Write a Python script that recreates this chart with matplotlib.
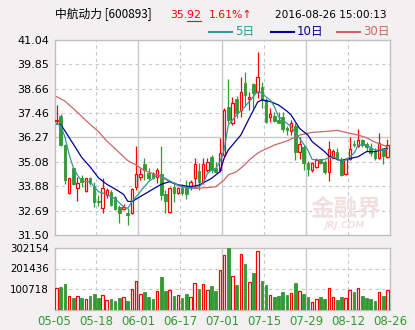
import matplotlib
matplotlib.use("Agg")
import matplotlib.pyplot as plt
from matplotlib.lines import Line2D
import numpy as np

plt.rcParams['font.family'] = ['DejaVu Sans', 'Noto Sans CJK SC']

# daily candles 2016-05-05 .. 2016-08-26
opens = [37.08, 37.34, 35.90, 33.54, 34.79, 33.79, 34.27, 33.67, 34.27, 33.90,
         33.18, 32.80, 33.46, 33.62, 33.34, 32.88, 32.75, 32.56, 32.56, 33.87,
         34.36, 34.97, 34.55, 34.52, 34.36, 34.47, 33.50, 32.64, 33.87, 33.54,
         33.82, 33.87, 33.92, 34.27, 34.63, 34.11, 34.68, 35.30, 34.79, 34.68,
         35.41, 37.78, 36.96, 38.14, 37.62, 38.95, 38.14, 38.87, 38.51, 38.76,
         38.11, 37.26, 37.32, 37.13, 37.26, 36.72, 36.60, 36.83, 35.58, 35.82,
         35.00, 34.68, 34.84, 35.20, 35.08, 34.56, 35.29, 35.57, 35.21, 34.47,
         35.21, 35.95, 35.86, 36.14, 35.94, 35.78, 35.62, 35.26, 35.75, 35.30]
highs = [37.86, 37.44, 35.95, 34.31, 34.85, 34.36, 34.43, 34.30, 34.35, 34.10,
         33.47, 34.31, 33.80, 33.70, 33.40, 32.95, 33.00, 32.80, 33.78, 35.85,
         34.76, 35.25, 34.76, 34.60, 34.76, 35.85, 33.70, 33.87, 34.10, 33.85,
         34.00, 34.17, 34.19, 35.25, 35.00, 35.25, 35.25, 35.40, 35.06, 36.23,
         37.70, 39.12, 38.27, 38.30, 39.25, 39.49, 38.51, 38.95, 40.47, 39.00,
         38.19, 37.70, 37.54, 37.54, 37.54, 36.83, 37.13, 37.00, 36.31, 35.90,
         35.10, 35.08, 35.27, 35.22, 35.15, 36.11, 35.70, 35.78, 35.30, 35.25,
         36.27, 36.14, 36.68, 36.20, 36.03, 35.98, 35.74, 36.47, 35.78, 36.20]
lows = [37.00, 35.85, 33.98, 33.50, 33.95, 33.18, 33.86, 33.60, 33.95, 32.88,
        32.92, 32.59, 33.30, 32.93, 32.70, 32.07, 32.70, 32.00, 32.52, 33.70,
        34.20, 34.20, 34.20, 34.25, 34.04, 33.20, 32.60, 32.60, 33.10, 33.50,
        33.45, 33.26, 33.70, 33.87, 33.70, 33.99, 34.60, 34.52, 34.52, 34.60,
        35.33, 36.96, 36.88, 37.21, 37.29, 37.86, 37.62, 37.70, 38.19, 37.70,
        36.96, 37.04, 37.04, 36.96, 36.56, 36.39, 36.39, 35.17, 35.20, 34.68,
        34.39, 34.60, 34.76, 34.96, 34.47, 34.15, 35.25, 35.15, 34.40, 34.44,
        35.15, 35.80, 35.82, 35.82, 35.62, 35.37, 35.17, 35.21, 34.96, 35.26]
closes = [37.15, 35.90, 34.19, 34.30, 34.00, 34.03, 34.11, 34.27, 34.03, 33.13,
          33.09, 33.78, 33.70, 32.96, 32.76, 32.56, 32.86, 32.48, 33.73, 34.47,
          34.47, 34.68, 34.28, 34.28, 34.68, 33.46, 33.14, 33.82, 33.54, 33.79,
          33.54, 33.51, 34.11, 34.96, 34.11, 34.96, 35.06, 34.68, 34.60, 35.50,
          37.62, 37.13, 37.94, 37.45, 38.51, 38.35, 38.27, 38.43, 39.25, 38.11,
          37.04, 37.42, 37.09, 37.00, 36.67, 36.64, 37.00, 35.58, 35.94, 35.04,
          34.71, 35.00, 35.17, 35.04, 34.56, 35.73, 35.62, 35.21, 34.44, 35.21,
          35.70, 35.90, 36.14, 35.90, 35.80, 35.50, 35.29, 35.98, 35.35, 35.92]
volumes = [104000, 110000, 127000, 65000, 56000, 65000, 56000, 50000, 66000, 76000,
           56000, 70000, 47000, 52000, 42000, 56000, 60000, 42000, 99000, 139000,
           75000, 86000, 61000, 52000, 89000, 160000, 91000, 94000, 66000, 70000,
           56000, 76000, 60000, 129000, 101000, 125000, 94000, 115000, 91000, 193000,
           266000, 302154, 163000, 120000, 271000, 224000, 134000, 179000, 286000, 139000,
           120000, 70000, 61000, 66000, 86000, 72000, 80000, 130000, 89000, 76000,
           61000, 37000, 50000, 61000, 52000, 104000, 61000, 47000, 61000, 56000,
           94000, 86000, 104000, 66000, 56000, 52000, 42000, 86000, 66000, 94000]

# moving averages read at selected bars
ma5_idx = [0, 1, 2, 3, 4, 5, 6, 7, 8, 9, 10, 12, 14, 16, 17, 18, 20, 22, 24, 25,
           26, 28, 30, 32, 34, 35, 36, 37, 38, 39, 40, 41, 43, 45, 46, 48, 49, 50,
           51, 52, 53, 55, 56, 58, 60, 61, 63, 64, 66, 68, 69, 71, 72, 74, 76, 77, 79]
ma5_val = [36.93, 36.86, 36.30, 35.45, 34.80, 34.43, 34.14, 34.12, 34.11, 33.86,
           33.62, 33.49, 33.26, 32.89, 32.80, 33.13, 33.62, 34.11, 34.43, 34.38,
           34.27, 34.03, 33.86, 33.78, 33.86, 34.03, 34.50, 34.68, 34.76, 35.08,
           35.66, 36.88, 37.37, 37.78, 38.03, 38.52, 38.44, 38.25, 38.11, 37.78,
           37.29, 36.96, 36.80, 36.23, 35.66, 35.20, 35.16, 35.20, 35.33, 35.12,
           35.16, 35.49, 35.90, 35.90, 35.66, 35.66, 35.70]
ma10_idx = [0, 1, 2, 4, 6, 8, 10, 12, 14, 16, 17, 18, 20, 22, 25, 27, 29, 32, 34,
            37, 39, 40, 41, 44, 46, 48, 49, 51, 53, 55, 56, 58, 60, 61, 64, 65,
            68, 69, 72, 74, 76, 79]
ma10_val = [36.93, 36.90, 36.60, 35.95, 35.30, 34.84, 34.30, 33.98, 33.75, 33.49,
            33.15, 33.13, 33.38, 33.62, 33.98, 34.11, 33.96, 33.86, 33.94, 34.27,
            34.60, 35.25, 35.66, 36.39, 37.21, 38.00, 38.11, 38.03, 37.86, 37.56,
            37.37, 36.72, 36.39, 36.07, 35.58, 35.37, 35.12, 35.20, 35.33, 35.58,
            35.58, 35.74]
ma30_idx = [0, 2, 5, 7, 10, 12, 14, 17, 19, 21, 24, 27, 30, 33, 36, 38, 40, 41,
            43, 45, 46, 48, 49, 51, 52, 55, 58, 61, 64, 67, 69, 72, 74, 76, 79]
ma30_val = [38.27, 38.05, 37.50, 37.10, 36.56, 36.10, 35.72, 35.14, 34.92, 34.65,
            34.44, 34.11, 33.84, 33.78, 33.82, 33.86, 34.19, 34.44, 34.60, 34.95,
            35.17, 35.50, 35.62, 35.80, 35.90, 36.10, 36.39, 36.52, 36.56, 36.62,
            36.52, 36.39, 36.26, 36.04, 35.82]

date_labels = ['05-05', '05-18', '06-01', '06-17', '07-01',
               '07-15', '07-29', '08-12', '08-26']
price_ticks = [31.50, 32.69, 33.88, 35.08, 36.27, 37.46, 38.66, 39.85, 41.04]
vol_ticks = [100718, 201436, 302154]

RED = '#ff0000'
GREEN = '#339933'
C5, C10, C30 = '#339999', '#000099', '#cc6666'
BG = '#f2f0f1'
GRID = '#c8c8c8'

W, H = 415, 330
fig = plt.figure(figsize=(W / 100, H / 100), dpi=100, facecolor=BG)


def fx(px):
    return px / W


def fy(py):
    return 1 - py / H


ax = fig.add_axes([fx(54.5), fy(235), fx(390) - fx(54.5), fy(40) - fy(235)])
axv = fig.add_axes([fx(54.5), fy(309.5), fx(390) - fx(54.5), fy(248) - fy(309.5)])

x = np.arange(len(closes))
o = np.array(opens)
c = np.array(closes)
up = c >= o
xlim = (-0.48, 79.6)
xt = np.linspace(xlim[0], xlim[1], 9)

for a in (ax, axv):
    a.set_facecolor('white')
    a.set_xlim(*xlim)
    for s in a.spines.values():
        s.set_color('#c0c0c0')
        s.set_linewidth(1.0)
    a.tick_params(length=0, labelsize=8, pad=4)
    a.set_xticks(xt)
    for k in range(1, 8):
        if k % 2 == 0:
            a.axvline(xt[k], color=GRID, lw=1.0, zorder=0)
        else:
            a.axvline(xt[k], color=GRID, lw=0.8, ls=(0, (3, 3)), zorder=0)

# price panel
ax.set_ylim(price_ticks[0], price_ticks[-1])
ax.set_yticks(price_ticks)
ax.set_yticklabels(['%.2f' % v for v in price_ticks])
ax.set_xticklabels([])
for v in price_ticks[1:-1]:
    if v == 36.27:
        ax.axhline(v, color=GRID, lw=1.0, zorder=0)
    else:
        ax.axhline(v, color=GRID, lw=0.8, ls=(0, (3, 3)), zorder=0)

# watermark
ax.text(77.5, 32.2, '金融界', fontsize=17, fontweight='bold', color='#f2e0e0',
        ha='right', va='bottom', family=['Noto Sans CJK SC'], zorder=1)
ax.text(64, 31.75, 'JRJ.COM', fontsize=6.5, fontweight='bold', style='italic',
        color='#f2e0e0', ha='left', va='bottom', zorder=1)

ax.vlines(x, lows, highs, color=np.where(up, RED, GREEN), lw=0.9, zorder=3)
body = np.maximum(np.abs(c - o), 0.03)
ax.bar(x[up], body[up], bottom=o[up], width=0.6, facecolor='white',
       edgecolor=RED, lw=0.9, zorder=4)
ax.bar(x[~up], body[~up], bottom=c[~up], width=0.6, facecolor=GREEN,
       edgecolor=GREEN, lw=0.6, zorder=4)

ax.plot(ma30_idx, ma30_val, color=C30, lw=0.9, zorder=5)
ax.plot(ma10_idx, ma10_val, color=C10, lw=0.9, zorder=5)
ax.plot(ma5_idx, ma5_val, color=C5, lw=0.9, zorder=5)

# volume panel
vol = np.array(volumes)
axv.set_ylim(0, 302154)
axv.set_yticks(vol_ticks)
axv.set_yticklabels([str(v) for v in vol_ticks], fontsize=7.4)
axv.set_xticklabels(date_labels, color=GREEN, fontsize=8.5)
for v in vol_ticks[:-1]:
    axv.axhline(v, color=GRID, lw=0.8, ls=(0, (3, 3)), zorder=0)
axv.bar(x[up], vol[up], width=0.62, facecolor='white', edgecolor=RED, lw=0.9, zorder=3)
axv.bar(x[~up], vol[~up], width=0.62, facecolor=GREEN, edgecolor=GREEN, lw=0.6, zorder=3)

# header
fig.text(fx(55), fy(15), '中航动力 [600893]', fontsize=8.5, va='center',
         family=['Noto Sans CJK SC', 'DejaVu Sans'])
fig.text(fx(170), fy(15), '%.2f' % closes[-1], fontsize=7.8, va='center', color=RED)
fig.add_artist(Line2D([fx(187), fx(201)], [fy(20.5), fy(20.5)],
                      transform=fig.transFigure, color=RED, lw=0.8))
fig.text(fx(209), fy(15), '1.61%↑', fontsize=7.8, va='center', color=RED)
fig.text(fx(275), fy(15), '2016-08-26 15:00:13', fontsize=7.6, va='center')

legend = [(209, '5日', C5), (271, '10日', C10), (337, '30日', C30)]
for px, lab, col in legend:
    fig.add_artist(Line2D([fx(px), fx(px + 23)], [fy(32), fy(32)],
                          transform=fig.transFigure, color=col, lw=1.5))
    fig.text(fx(px + 26), fy(32), lab, fontsize=8.5, va='center', color=col,
             family=['DejaVu Sans', 'Noto Sans CJK SC'])

fig.savefig('out.png', dpi=100, facecolor=BG)
